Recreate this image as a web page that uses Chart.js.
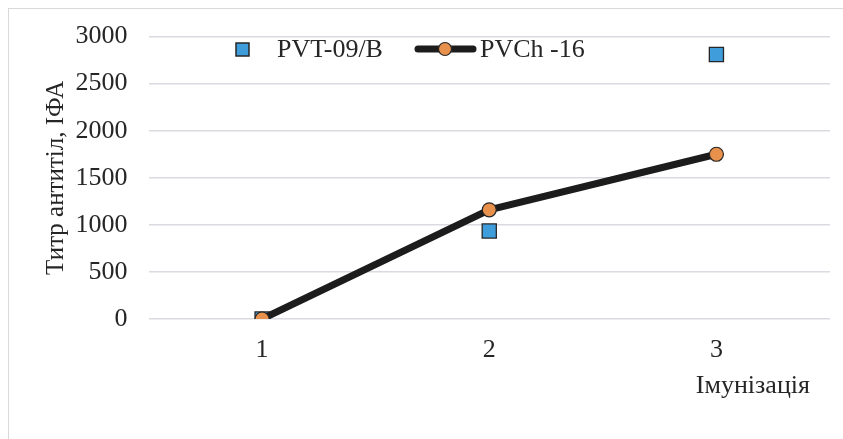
<!DOCTYPE html>
<html>
<head>
<meta charset="utf-8">
<script src="https://cdn.jsdelivr.net/npm/chart.js@4"></script>
<style>
html,body{margin:0;padding:0;background:#fff;overflow:hidden;}
#wrap{position:relative;width:843px;height:439px;overflow:hidden;}
#frame{position:absolute;left:8px;top:8px;width:845px;height:445px;border:1px solid #d9d9d9;box-sizing:border-box;}
canvas{position:absolute;left:0;top:0;}
</style>
</head>
<body>
<div id="wrap"><div id="frame"></div><canvas id="c" width="843" height="439"></canvas></div>
<script>
const categories = ["1", "2", "3"];
const seriesNames = ["PVT-09/B", "PVCh -16"];
const pvt09 = [0, 935, 2810];
const pvch16 = [0, 1160, 1750];
const yTicks = [0, 500, 1000, 1500, 2000, 2500, 3000];
const yTitle = "Титр антитіл, ІФА";
const xTitle = "Імунізація";

const FONT = "'Liberation Serif', 'Times New Roman', serif";
const TEXT = "#262626";

const legendPlugin = {
  id: 'customLegend',
  afterDraw(chart) {
    const ctx = chart.ctx;
    const ds = chart.data.datasets;
    const y = 49;
    ctx.save();
    ctx.font = "26px " + FONT;
    ctx.textBaseline = 'middle';
    ctx.fillStyle = TEXT;
    ctx.fillStyle = ds[0].pointBackgroundColor;
    ctx.strokeStyle = ds[0].pointBorderColor;
    ctx.lineWidth = 1.5;
    ctx.fillRect(236, y - 6, 13, 13);
    ctx.strokeRect(236, y - 6, 13, 13);
    ctx.fillStyle = TEXT;
    ctx.fillText(ds[0].label, 277, y + 1);
    ctx.strokeStyle = ds[1].borderColor;
    ctx.lineWidth = 7;
    ctx.lineCap = 'round';
    ctx.beginPath(); ctx.moveTo(418, y); ctx.lineTo(473, y); ctx.stroke();
    ctx.beginPath(); ctx.arc(445, y, 6.5, 0, Math.PI * 2);
    ctx.fillStyle = ds[1].pointBackgroundColor; ctx.fill();
    ctx.lineWidth = 1.2; ctx.strokeStyle = ds[1].pointBorderColor; ctx.stroke();
    ctx.fillStyle = TEXT;
    ctx.fillText(ds[1].label, 480, y + 1);
    ctx.textAlign = 'right';
    ctx.font = "26px " + FONT;
    ctx.fillText(xTitle, 810, 386);
    ctx.restore();
  }
};

new Chart(document.getElementById('c'), {
  type: 'line',
  data: {
    labels: categories,
    datasets: [
      {
        label: seriesNames[0],
        data: pvt09,
        showLine: false,
        pointStyle: 'rect',
        pointRadius: 10,
        pointHoverRadius: 10,
        pointBackgroundColor: '#3f9ddb',
        pointBorderColor: '#262626',
        pointBorderWidth: 1.3,
        order: 2
      },
      {
        label: seriesNames[1],
        data: pvch16,
        borderColor: '#1c1c1c',
        borderWidth: 7,
        borderCapStyle: 'round',
        tension: 0,
        pointStyle: 'circle',
        pointRadius: 7,
        pointHoverRadius: 7,
        pointBackgroundColor: '#e8914c',
        pointBorderColor: '#262626',
        pointBorderWidth: 1.2,
        order: 1
      }
    ]
  },
  options: {
    responsive: false,
    animation: false,
    events: [],
    layout: { padding: { left: 0, right: 13, top: 35, bottom: 0 } },
    plugins: { legend: { display: false }, tooltip: { enabled: false } },
    scales: {
      x: {
        offset: true,
        grid: { display: false, drawTicks: false },
        border: { display: false },
        ticks: { color: TEXT, font: { family: FONT, size: 26 }, padding: 16 },
        afterFit(s) { s.height = 120; }
      },
      y: {
        min: 0, max: 3000,
        afterBuildTicks(s) { s.ticks = yTicks.map(v => ({ value: v })); },
        grid: { color: '#d9dbe0', lineWidth: 1.5, drawTicks: false },
        border: { display: false },
        ticks: { color: TEXT, font: { family: FONT, size: 26 }, padding: 21, callback: (v) => String(v) },
        title: { display: true, text: yTitle, color: TEXT, font: { family: FONT, size: 25 }, padding: { top: 41, bottom: 0 } },
        afterFit(s) { s.width = 148.5; }
      }
    }
  },
  plugins: [legendPlugin]
});
</script>
</body>
</html>
